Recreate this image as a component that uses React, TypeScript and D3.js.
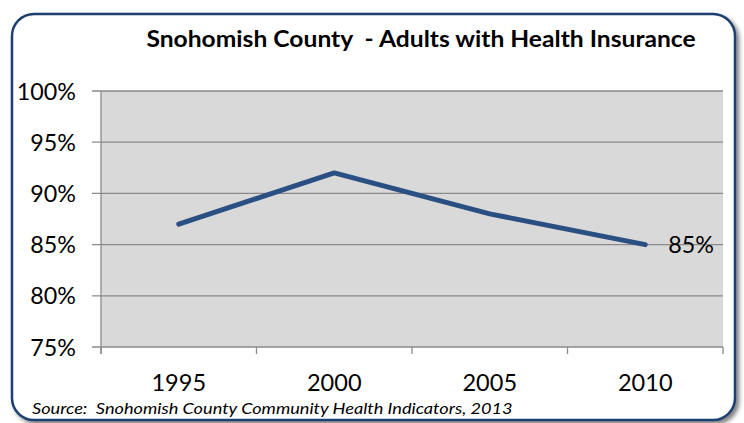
import React from "react";
import * as d3 from "d3";

const years = ["1995", "2000", "2005", "2010"];
const values = [87, 92, 88, 85];
const yTicks = [75, 80, 85, 90, 95, 100];
const title = "Snohomish County  - Adults with Health Insurance";
const source = "Source:  Snohomish County Community Health Indicators, 2013";

const W = 744, H = 423;
const plot = { left: 101, right: 723, top: 91, bottom: 347 };
const FONT = "Lato, 'Open Sans', sans-serif";

function SText(props: { x: number; y: number; sx: number; anchor?: string; size: number; weight?: string; italic?: boolean; dy?: string; children: React.ReactNode }) {
  const { x, y, sx, anchor = "start", size, weight = "normal", italic = false, dy = "0", children } = props;
  return (
    <g transform={`translate(${x},${y}) scale(${sx},1)`}>
      <text x={0} y={0} dy={dy} textAnchor={anchor} fontFamily={FONT} fontSize={size} fontWeight={weight} fontStyle={italic ? "italic" : "normal"} fill="#000" style={{ whiteSpace: "pre" }}>{children}</text>
    </g>
  );
}

export default function App() {
  const x = d3.scaleBand<string>().domain(years).range([plot.left, plot.right]).padding(0);
  const y = d3.scaleLinear().domain([75, 100]).range([plot.bottom, plot.top]);
  const cx = (i: number) => (x(years[i]) as number) + x.bandwidth() / 2;
  const line = d3.line<number>().x((_, i) => cx(i)).y((d) => y(d));
  const boundaries = years.map((yr) => x(yr) as number).concat([plot.right]);
  const last = values.length - 1;
  return (
    <svg width={W} height={H} style={{ position: "absolute", left: 0, top: 0 }}>
      <defs>
        <filter id="sh" x="-5%" y="-5%" width="110%" height="110%">
          <feDropShadow dx="3" dy="3" stdDeviation="2" floodColor="#000" floodOpacity="0.5" />
        </filter>
      </defs>
      <rect x={12} y={14} width={723} height={406} rx={22} ry={22} fill="#fff" stroke="#1f3f6f" strokeWidth={2.5} filter="url(#sh)" />
      <SText x={421} y={47} sx={1.12} anchor="middle" size={22} weight="bold">{title}</SText>
      <rect x={plot.left} y={plot.top} width={plot.right - plot.left} height={plot.bottom - plot.top} fill="#d9d9d9" />
      {yTicks.map((t) => (
        <g key={t}>
          <line x1={92} x2={plot.right} y1={y(t)} y2={y(t)} stroke="#8a8a8a" strokeWidth={1.3} />
          <SText x={76} y={y(t)} sx={0.97} anchor="end" size={24} dy="0.36em">{t}%</SText>
        </g>
      ))}
      <line x1={plot.left} x2={plot.left} y1={plot.top} y2={plot.bottom + 7} stroke="#8a8a8a" strokeWidth={1.3} />
      {boundaries.map((b, i) => (
        <line key={i} x1={b} x2={b} y1={plot.bottom} y2={plot.bottom + 7} stroke="#8a8a8a" strokeWidth={1.3} />
      ))}
      {years.map((yr, i) => (
        <SText key={yr} x={cx(i)} y={391} sx={0.98} anchor="middle" size={24}>{yr}</SText>
      ))}
      <path d={line(values) || ""} fill="none" stroke="#2a4f82" strokeWidth={5} strokeLinecap="round" strokeLinejoin="round" />
      <SText x={cx(last) + 23} y={y(values[last])} sx={0.97} size={24} dy="0.36em">{values[last]}%</SText>
      <SText x={32} y={414} sx={1.135} size={16} italic>{source}</SText>
    </svg>
  );
}
